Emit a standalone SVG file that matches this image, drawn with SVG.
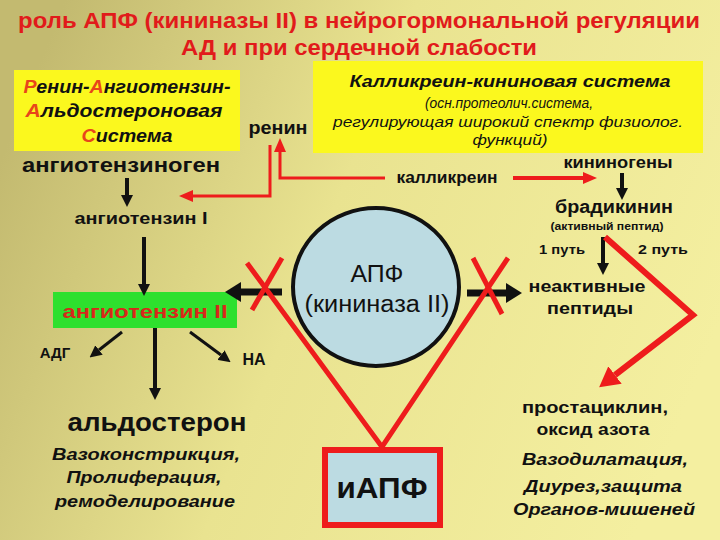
<svg xmlns="http://www.w3.org/2000/svg" width="720" height="540" viewBox="0 0 720 540">
<style>
text{font-family:"Liberation Sans",Arial,sans-serif;fill:#111;text-anchor:middle}
.b{font-weight:bold}
.bi{font-weight:bold;font-style:italic}
.i{font-style:italic}
.red{fill:#e11b1b}
.ini{fill:#e8451a}
.k{stroke:#111;fill:none}
.r{stroke:#ee1c1c;fill:none;stroke-linejoin:miter}
.ybox{fill:#fbf81e}
</style>
<defs>
<linearGradient id="bg" x1="0" y1="0.3" x2="1" y2="0.6">
<stop offset="0" stop-color="#c3ba70"/>
<stop offset="0.45" stop-color="#e9e390"/>
<stop offset="1" stop-color="#f4efa0"/>
</linearGradient>
<marker id="ab" viewBox="0 0 12 12" refX="0" refY="6" markerWidth="12" markerHeight="12" markerUnits="userSpaceOnUse" orient="auto"><path d="M0,0 L12,6 L0,12z" fill="#111"/></marker>
<marker id="abL" viewBox="0 0 16 20" refX="0" refY="10" markerWidth="16" markerHeight="20" markerUnits="userSpaceOnUse" orient="auto"><path d="M0,0 L16,10 L0,20z" fill="#111"/></marker>
<marker id="ar" viewBox="0 0 14 12" refX="0" refY="6" markerWidth="14" markerHeight="12" markerUnits="userSpaceOnUse" orient="auto"><path d="M0,0 L14,6 L0,12z" fill="#ee1c1c"/></marker>
<marker id="arL" viewBox="0 0 20 22" refX="0" refY="11" markerWidth="20" markerHeight="22" markerUnits="userSpaceOnUse" orient="auto"><path d="M0,0 L20,11 L0,22z" fill="#ee1c1c"/></marker>
</defs>
<rect width="720" height="540" fill="url(#bg)"/>

<g id="title" class="b">
<text x="359" y="28" font-size="22" class="b red" textLength="682" lengthAdjust="spacingAndGlyphs">роль АПФ (кининазы II) в нейрогормональной регуляции</text>
<text x="359" y="55" font-size="22" class="b red" textLength="356" lengthAdjust="spacingAndGlyphs">АД и при сердечной слабости</text>
</g>

<g id="raas">
<rect class="ybox" x="14" y="70" width="226" height="81"/>
<text class="bi" x="127" y="93" font-size="18" textLength="207" lengthAdjust="spacingAndGlyphs"><tspan class="ini">Р</tspan>енин-<tspan class="ini">А</tspan>нгиотензин-</text>
<text class="bi" x="124" y="117" font-size="18" textLength="197" lengthAdjust="spacingAndGlyphs"><tspan class="ini">А</tspan>льдостероновая</text>
<text class="bi" x="127" y="142" font-size="18" textLength="91" lengthAdjust="spacingAndGlyphs"><tspan class="ini">С</tspan>истема</text>
</g>

<g id="kks">
<rect class="ybox" x="313" y="61" width="390" height="92"/>
<text class="bi" x="510" y="87" font-size="17" textLength="321" lengthAdjust="spacingAndGlyphs">Калликреин-кининовая система</text>
<text class="i" x="509" y="108" font-size="14" textLength="168" lengthAdjust="spacingAndGlyphs">(осн.протеолич.система,</text>
<text class="i" x="508" y="127" font-size="14" textLength="350" lengthAdjust="spacingAndGlyphs">регулирующая широкий спектр физиолог.</text>
<text class="i" x="510" y="145" font-size="14" textLength="75" lengthAdjust="spacingAndGlyphs">функций)</text>
</g>

<g id="renin"><text class="b" x="278" y="134" font-size="18" textLength="59" lengthAdjust="spacingAndGlyphs">ренин</text></g>
<g id="angiotensinogen"><text class="b" x="121" y="172" font-size="21" textLength="198" lengthAdjust="spacingAndGlyphs">ангиотензиноген</text></g>
<g id="kininogens"><text class="b" x="618" y="168" font-size="17" textLength="109" lengthAdjust="spacingAndGlyphs">кининогены</text></g>
<g id="kallikrein"><text class="b" x="447" y="183" font-size="16" textLength="101" lengthAdjust="spacingAndGlyphs">калликреин</text></g>
<g id="angiotensin1"><text class="b" x="141" y="224" font-size="16" textLength="133" lengthAdjust="spacingAndGlyphs">ангиотензин I</text></g>
<g id="angiotensin2">
<rect x="53" y="292" width="184" height="36" fill="#2ee02e"/>
<text class="b" x="145" y="318" font-size="19" fill="#d8281a" style="fill:#d8281a" textLength="165" lengthAdjust="spacingAndGlyphs">ангиотензин II</text>
</g>
<g id="adg"><text class="b" x="55" y="358" font-size="15">АДГ</text></g>
<g id="na"><text class="b" x="254" y="365" font-size="16">НА</text></g>
<g id="aldosterone">
<text class="b" x="157" y="431" font-size="26" textLength="179" lengthAdjust="spacingAndGlyphs">альдостерон</text>
<text class="bi" x="146" y="460" font-size="17" textLength="188" lengthAdjust="spacingAndGlyphs">Вазоконстрикция,</text>
<text class="bi" x="144" y="483" font-size="17" textLength="155" lengthAdjust="spacingAndGlyphs">Пролиферация,</text>
<text class="bi" x="145" y="507" font-size="17" textLength="180" lengthAdjust="spacingAndGlyphs">ремоделирование</text>
</g>
<g id="ace">
<ellipse cx="376" cy="287" rx="83" ry="79" fill="#bcdbe2" stroke="#111" stroke-width="4"/>
<text x="377" y="282" font-size="23" textLength="53" lengthAdjust="spacingAndGlyphs">АПФ</text>
<text x="377" y="312" font-size="23" textLength="145" lengthAdjust="spacingAndGlyphs">(кининаза II)</text>
</g>
<g id="bradykinin">
<text class="b" x="614" y="213" font-size="18" textLength="118" lengthAdjust="spacingAndGlyphs">брадикинин</text>
<text class="b" x="607" y="230" font-size="11" textLength="113" lengthAdjust="spacingAndGlyphs">(активный пептид)</text>
</g>
<g id="path1"><text class="b" x="562" y="254" font-size="13" textLength="46" lengthAdjust="spacingAndGlyphs">1 путь</text></g>
<g id="path2"><text class="b" x="663" y="254" font-size="13" textLength="50" lengthAdjust="spacingAndGlyphs">2 путь</text></g>
<g id="inactive">
<text class="b" x="587" y="292" font-size="17" textLength="117" lengthAdjust="spacingAndGlyphs">неактивные</text>
<text class="b" x="590" y="314" font-size="17" textLength="86" lengthAdjust="spacingAndGlyphs">пептиды</text>
</g>
<g id="prostacyclin">
<text class="b" x="595" y="413" font-size="17" textLength="146" lengthAdjust="spacingAndGlyphs">простациклин,</text>
<text class="b" x="593" y="435" font-size="17" textLength="113" lengthAdjust="spacingAndGlyphs">оксид азота</text>
<text class="bi" x="605" y="465" font-size="17" textLength="166" lengthAdjust="spacingAndGlyphs">Вазодилатация,</text>
<text class="bi" x="603" y="492" font-size="17" textLength="158" lengthAdjust="spacingAndGlyphs">Диурез,защита</text>
<text class="bi" x="604" y="515" font-size="17" textLength="182" lengthAdjust="spacingAndGlyphs">Органов-мишеней</text>
</g>
<g id="iace">
<rect x="325" y="450" width="115" height="75" fill="#bcdbe2" stroke="#ee1c1c" stroke-width="6"/>
<text class="b" x="382" y="498" font-size="30" textLength="91" lengthAdjust="spacingAndGlyphs">иАПФ</text>
</g>

<g id="connectors">
<line class="k" x1="127" y1="178" x2="127" y2="195" stroke-width="4" marker-end="url(#ab)"/>
<line class="k" x1="144" y1="237" x2="144" y2="284" stroke-width="4" marker-end="url(#ab)"/>
<line class="k" x1="122" y1="332" x2="99" y2="350" stroke-width="3" marker-end="url(#ab)"/>
<line class="k" x1="190" y1="332" x2="221" y2="355" stroke-width="3" marker-end="url(#ab)"/>
<line class="k" x1="155" y1="328" x2="155" y2="388" stroke-width="4" marker-end="url(#ab)"/>
<line class="k" x1="622" y1="173" x2="622" y2="188" stroke-width="4" marker-end="url(#ab)"/>
<line class="k" x1="603" y1="237" x2="603" y2="263" stroke-width="4" marker-end="url(#ab)"/>
<line class="k" x1="282" y1="292" x2="241" y2="292" stroke-width="7" marker-end="url(#abL)"/>
<line class="k" x1="467" y1="293" x2="506" y2="293" stroke-width="7" marker-end="url(#abL)"/>
<polyline class="r" points="385,178 280,178 280,152" stroke-width="3" marker-end="url(#ar)"/>
<polyline class="r" points="270,145 270,196 193,196" stroke-width="3" marker-end="url(#ar)"/>
<line class="r" x1="513" y1="178" x2="583" y2="178" stroke-width="4" marker-end="url(#ar)"/>
<polyline class="r" points="605,237 693,315 615,375" stroke-width="6" marker-end="url(#arL)"/>
<polyline class="r" points="247,263 382,447 508,258" stroke-width="5"/>
<line class="r" x1="282" y1="258" x2="252" y2="310" stroke-width="5"/>
<line class="r" x1="473" y1="258" x2="502" y2="314" stroke-width="5"/>
</g>
</svg>
